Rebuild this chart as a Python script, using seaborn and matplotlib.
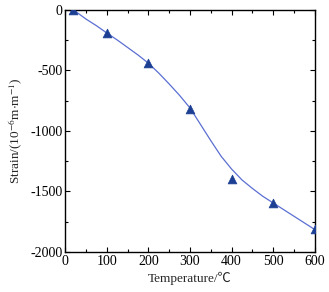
import numpy as np
import pandas as pd
import matplotlib
matplotlib.use("Agg")
import matplotlib.pyplot as plt
import seaborn as sns
from matplotlib.ticker import MultipleLocator

# measured points
temp_pts = [20, 100, 200, 300, 400, 500, 600]
strain_pts = [0, -190, -440, -815, -1400, -1595, -1812]

# fitted curve
temp_fit = [20, 50, 75, 100, 125, 150, 175, 200, 225, 250, 275, 300, 325, 350,
            375, 400, 425, 450, 475, 500, 525, 550, 575, 600]
strain_fit = [0, -75, -130, -190, -248, -310, -372, -440, -522, -612, -706, -810,
              -945, -1080, -1210, -1315, -1405, -1475, -1540, -1595, -1650, -1705,
              -1760, -1815]

sns.set_style("ticks")
plt.rcParams['font.family'] = ['Liberation Serif', 'DejaVu Serif']
plt.rcParams['axes.unicode_minus'] = False
plt.rcParams['mathtext.fontset'] = 'stix'

fig = plt.figure(figsize=(3.29, 2.92), dpi=100)
ax = fig.add_axes([0.198, 0.137, 0.759, 0.829])

pts = pd.DataFrame({'T': temp_pts, 'S': strain_pts})
fit = pd.DataFrame({'T': temp_fit, 'S': strain_fit})

sns.lineplot(data=fit, x='T', y='S', ax=ax, color='#5b6fd2', linewidth=0.9, sort=True)
sns.scatterplot(data=pts, x='T', y='S', ax=ax, marker='^', s=40, color='#1c3f94',
                edgecolor='#1c3f94', linewidth=0.5, zorder=3)

ax.set_xlim(0, 600)
ax.set_ylim(-2000, 0)
ax.xaxis.set_major_locator(MultipleLocator(100))
ax.xaxis.set_minor_locator(MultipleLocator(50))
ax.yaxis.set_major_locator(MultipleLocator(500))
ax.yaxis.set_minor_locator(MultipleLocator(250))
ax.tick_params(which='both', direction='in', top=True, right=True, labelsize=10,
               colors='black', width=0.8)
ax.tick_params(which='major', length=3.5, pad=2)
ax.tick_params(which='minor', length=2)
for sp in ax.spines.values():
    sp.set_visible(True)
    sp.set_linewidth(1.0)
    sp.set_color('black')

ax.set_xlabel('Temperature/℃', fontsize=9.5, labelpad=3,
              family=['Liberation Serif', 'Noto Sans CJK SC', 'DejaVu Sans'])
ax.set_ylabel(r'Strain/(10$^{-6}$m$\cdot$m$^{-1}$)', fontsize=9.5, labelpad=4)

fig.savefig('out.png', dpi=100)
